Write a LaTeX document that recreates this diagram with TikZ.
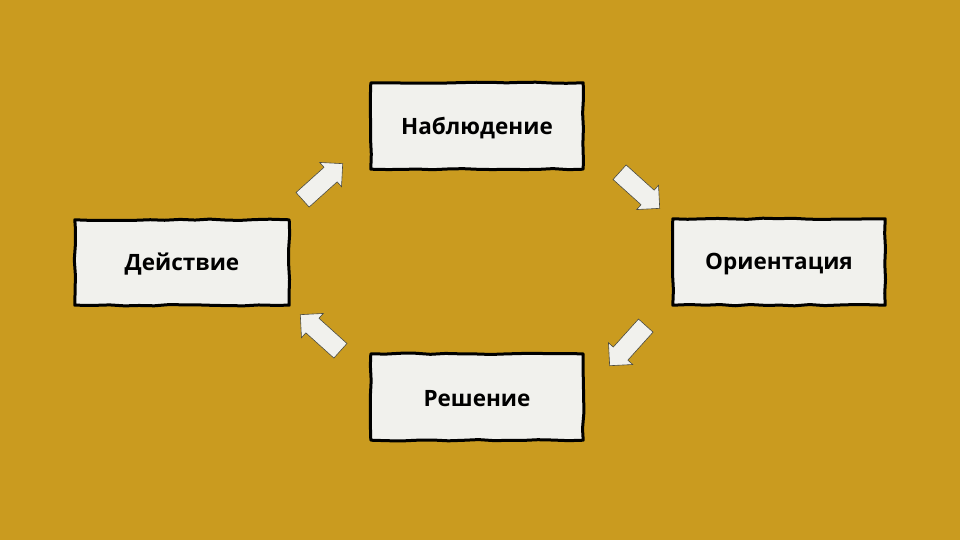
\documentclass[tikz,border=0pt]{standalone}
\usepackage{fontspec}
\setmainfont{Open Sans}
\usetikzlibrary{shapes.arrows,decorations.pathmorphing}
\definecolor{bgmustard}{HTML}{CA9B1F}
\definecolor{paper}{HTML}{F1F1ED}
\definecolor{arrowline}{HTML}{4A4A40}
\tikzset{
  sketchbox/.style={fill=paper, draw=none,
    minimum width=212pt, minimum height=86pt, inner sep=0pt, text depth=0pt,
    font=\fontsize{22.5}{26}\selectfont\bfseries},
  sketchline/.style={draw=black, line width=3pt, line join=round, line cap=round,
    decorate, decoration={random steps, segment length=15pt, amplitude=0.7pt}},
  boxlabel/.style={font=\fontsize{22.5}{26}\selectfont\bfseries, inner sep=0pt},
  blockarrow/.style={single arrow, draw=arrowline, fill=paper, line width=0.6pt,
    minimum height=54pt, inner sep=9.5pt, single arrow head extend=6.5pt,
    single arrow tip angle=90, anchor=center}
}
\begin{document}
\begin{tikzpicture}[x=1pt,y=-1pt]
\pgfmathsetseed{11}
\fill[bgmustard] (0,0) rectangle (960,540);
\useasboundingbox (0,0) rectangle (960,540);
\node[sketchbox] (obs) at (477,126) {};
\node[sketchbox] (ori) at (779,262) {};
\node[sketchbox] (dec) at (477,397) {};
\node[sketchbox, minimum width=214pt, minimum height=85pt] (act) at (182,262.5) {};
\foreach \b in {obs,ori,dec,act}{
  \draw[sketchline] (\b.north west) -- (\b.north east) -- (\b.south east) -- (\b.south west) -- cycle;
}
\node[boxlabel] (tobs) at ([yshift=-2pt]obs.center) {Наблюдение};
\node[boxlabel] (tori) at ([yshift=-2pt]ori.center) {Ориентация};
\node[boxlabel] (tdec) at ([yshift=-2pt]dec.center) {Решение};
\node[boxlabel] (tact) at ([yshift=-2pt]act.center) {Действие};
\node[blockarrow, rotate=42] (a1) at (319,185) {};
\node[blockarrow, rotate=-42] (a2) at (636,187) {};
\node[blockarrow, rotate=-132] (a3) at (631,342) {};
\node[blockarrow, rotate=138] (a4) at (324,336) {};
\end{tikzpicture}
\end{document}
